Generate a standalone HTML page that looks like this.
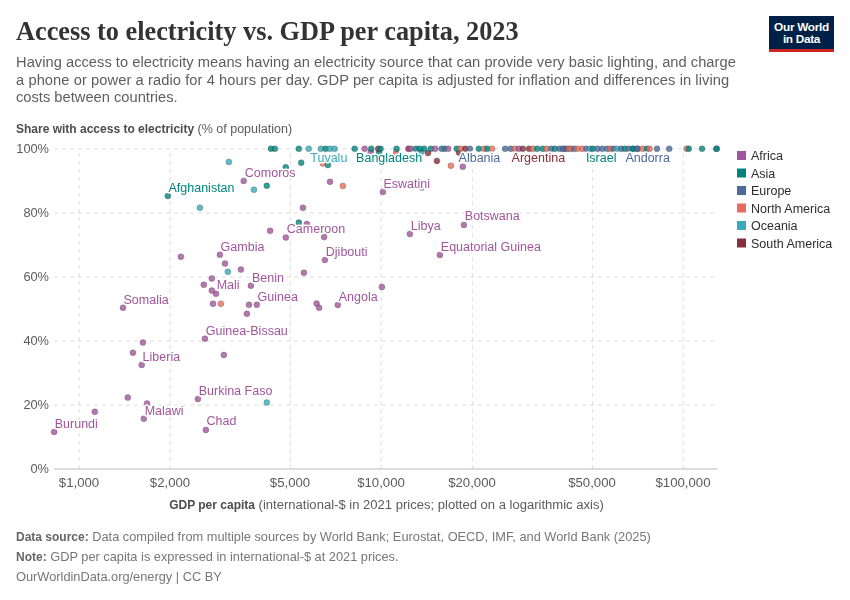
<!DOCTYPE html>
<html><head><meta charset="utf-8">
<style>
html,body{margin:0;padding:0;background:#fff;}
body{width:850px;height:600px;position:relative;overflow:hidden;font-family:"Liberation Sans",sans-serif;}
.t,svg{will-change:transform;}
.t{position:absolute;white-space:nowrap;}
#title{left:16px;top:17px;font-family:"Liberation Serif",serif;font-weight:bold;font-size:26.3px;color:#333;}
#sub{left:16px;top:53.5px;font-size:14.7px;line-height:17.7px;color:#5e5e5e;}
#logo{position:absolute;left:769px;top:16px;width:65px;height:33px;background:#002147;border-bottom:3px solid #ce261e;box-sizing:content-box;color:#fff;font-size:11.8px;line-height:12px;text-align:center;font-weight:bold;}
#logo div{padding-top:5px;letter-spacing:-0.3px;}
.foot{left:16px;font-size:12.8px;color:#777;}
.foot b{color:#666;font-size:12px;}
</style></head><body>
<div id="title" class="t">Access to electricity vs. GDP per capita, 2023</div>
<div id="sub" class="t"><span style="letter-spacing:0.02px">Having access to electricity means having an electricity source that can provide very basic lighting, and charge</span><br><span style="letter-spacing:0.07px">a phone or power a radio for 4 hours per day. GDP per capita is adjusted for inflation and differences in living</span><br>costs between countries.</div>
<div id="logo"><div>Our World<br>in Data</div></div>

<svg width="850" height="600" style="position:absolute;left:0;top:0" font-family="Liberation Sans, sans-serif">
 <text x="16" y="133" font-size="12.5" fill="#4d4d4d"><tspan font-weight="bold" font-size="12">Share with access to electricity</tspan><tspan fill="#5b5b5b"> (% of population)</tspan></text>
 <g stroke="#dddddd" stroke-dasharray="4,4" stroke-width="1">
  <line x1="54" y1="148.90" x2="718" y2="148.90"/>
  <line x1="54" y1="212.95" x2="718" y2="212.95"/>
  <line x1="54" y1="277.00" x2="718" y2="277.00"/>
  <line x1="54" y1="341.05" x2="718" y2="341.05"/>
  <line x1="54" y1="405.10" x2="718" y2="405.10"/>
  <line x1="79.2" y1="153" x2="79.2" y2="469"/>
  <line x1="170.2" y1="153" x2="170.2" y2="469"/>
  <line x1="290.3" y1="153" x2="290.3" y2="469"/>
  <line x1="381.2" y1="153" x2="381.2" y2="469"/>
  <line x1="472.3" y1="153" x2="472.3" y2="469"/>
  <line x1="592.4" y1="153" x2="592.4" y2="469"/>
  <line x1="683.3" y1="153" x2="683.3" y2="469"/>
 </g>
 <line x1="54" y1="469" x2="717.5" y2="469" stroke="#bbbbbb" stroke-width="1"/>
 <g font-size="12.8" fill="#5b5b5b" text-anchor="end">
  <text x="49" y="153">100%</text>
  <text x="49" y="217">80%</text>
  <text x="49" y="281">60%</text>
  <text x="49" y="345">40%</text>
  <text x="49" y="409">20%</text>
  <text x="49" y="473">0%</text>
 </g>
 <g font-size="13.2" fill="#5b5b5b" text-anchor="middle">
  <text x="79" y="487">$1,000</text>
  <text x="170" y="487">$2,000</text>
  <text x="290" y="487">$5,000</text>
  <text x="381" y="487">$10,000</text>
  <text x="472" y="487">$20,000</text>
  <text x="592" y="487">$50,000</text>
  <text x="683" y="487">$100,000</text>
 </g>
 <text x="386.5" y="508.8" font-size="12.5" fill="#4d4d4d" text-anchor="middle"><tspan font-weight="bold" font-size="12">GDP per capita</tspan><tspan fill="#5b5b5b" font-size="13.05"> (international-$ in 2021 prices; plotted on a logarithmic axis)</tspan></text>

 <g font-size="12.5" fill="#2d2d2d">
  <rect x="737" y="151" width="9" height="9" fill="#a2559c"/><text x="751" y="160">Africa</text>
  <rect x="737" y="168.5" width="9" height="9" fill="#00847e"/><text x="751" y="177.5">Asia</text>
  <rect x="737" y="186" width="9" height="9" fill="#4c6a9c"/><text x="751" y="195">Europe</text>
  <rect x="737" y="203.5" width="9" height="9" fill="#e56e5a"/><text x="751" y="212.5">North America</text>
  <rect x="737" y="221" width="9" height="9" fill="#38aaba"/><text x="751" y="230">Oceania</text>
  <rect x="737" y="238.5" width="9" height="9" fill="#883039"/><text x="751" y="247.5">South America</text>
 </g>

 <g id="pts" fill-opacity="0.8" stroke="#333" stroke-width="0.5" stroke-opacity="0.5">
<circle cx="54.1" cy="431.9" r="3.0" fill="#a2559c"/>
<circle cx="94.8" cy="411.8" r="3.0" fill="#a2559c"/>
<circle cx="127.8" cy="397.6" r="3.0" fill="#a2559c"/>
<circle cx="147" cy="403.5" r="3.0" fill="#a2559c"/>
<circle cx="143.8" cy="418.8" r="3.0" fill="#a2559c"/>
<circle cx="197.9" cy="398.9" r="3.0" fill="#a2559c"/>
<circle cx="205.9" cy="429.9" r="3.0" fill="#a2559c"/>
<circle cx="266.8" cy="402.6" r="3.0" fill="#38aaba"/>
<circle cx="204.9" cy="338.7" r="3.0" fill="#a2559c"/>
<circle cx="223.9" cy="354.9" r="3.0" fill="#a2559c"/>
<circle cx="142.9" cy="342.6" r="3.0" fill="#a2559c"/>
<circle cx="132.9" cy="352.7" r="3.0" fill="#a2559c"/>
<circle cx="141.7" cy="364.9" r="3.0" fill="#a2559c"/>
<circle cx="123.0" cy="307.7" r="3.0" fill="#a2559c"/>
<circle cx="180.9" cy="256.8" r="3.0" fill="#a2559c"/>
<circle cx="219.9" cy="254.8" r="3.0" fill="#a2559c"/>
<circle cx="225.0" cy="263.6" r="3.0" fill="#a2559c"/>
<circle cx="227.8" cy="271.8" r="3.0" fill="#38aaba"/>
<circle cx="240.9" cy="269.6" r="3.0" fill="#a2559c"/>
<circle cx="211.8" cy="278.5" r="3.0" fill="#a2559c"/>
<circle cx="203.8" cy="284.8" r="3.0" fill="#a2559c"/>
<circle cx="211.8" cy="290.6" r="3.0" fill="#a2559c"/>
<circle cx="216.0" cy="293.8" r="3.0" fill="#a2559c"/>
<circle cx="213.0" cy="303.7" r="3.0" fill="#a2559c"/>
<circle cx="220.9" cy="303.7" r="3.0" fill="#e56e5a"/>
<circle cx="250.9" cy="285.7" r="3.0" fill="#a2559c"/>
<circle cx="249.0" cy="304.8" r="3.0" fill="#a2559c"/>
<circle cx="256.8" cy="304.8" r="3.0" fill="#a2559c"/>
<circle cx="246.9" cy="313.8" r="3.0" fill="#a2559c"/>
<circle cx="302.9" cy="207.8" r="3.0" fill="#a2559c"/>
<circle cx="298.8" cy="222.6" r="3.0" fill="#00847e"/>
<circle cx="306.8" cy="224.1" r="3.0" fill="#a2559c"/>
<circle cx="270.1" cy="230.8" r="3.0" fill="#a2559c"/>
<circle cx="285.8" cy="237.6" r="3.0" fill="#a2559c"/>
<circle cx="324.1" cy="237.1" r="3.0" fill="#a2559c"/>
<circle cx="324.9" cy="259.9" r="3.0" fill="#a2559c"/>
<circle cx="303.9" cy="272.7" r="3.0" fill="#a2559c"/>
<circle cx="381.9" cy="286.9" r="3.0" fill="#a2559c"/>
<circle cx="316.6" cy="303.5" r="3.0" fill="#a2559c"/>
<circle cx="319.1" cy="307.8" r="3.0" fill="#a2559c"/>
<circle cx="337.8" cy="304.9" r="3.0" fill="#a2559c"/>
<circle cx="382.9" cy="191.9" r="3.0" fill="#a2559c"/>
<circle cx="421.8" cy="187.4" r="3.0" fill="#a2559c"/>
<circle cx="409.9" cy="233.9" r="3.0" fill="#a2559c"/>
<circle cx="463.9" cy="224.9" r="3.0" fill="#a2559c"/>
<circle cx="439.9" cy="254.9" r="3.0" fill="#a2559c"/>
<circle cx="228.9" cy="162.0" r="3.0" fill="#38aaba"/>
<circle cx="243.7" cy="180.9" r="3.0" fill="#a2559c"/>
<circle cx="253.9" cy="189.7" r="3.0" fill="#38aaba"/>
<circle cx="266.8" cy="185.8" r="3.0" fill="#00847e"/>
<circle cx="285.8" cy="167.3" r="3.0" fill="#00847e"/>
<circle cx="167.8" cy="195.9" r="3.0" fill="#00847e"/>
<circle cx="199.9" cy="207.7" r="3.0" fill="#38aaba"/>
<circle cx="301.2" cy="162.7" r="3.0" fill="#00847e"/>
<circle cx="322.9" cy="163.5" r="3.0" fill="#e56e5a"/>
<circle cx="327.9" cy="165.1" r="3.0" fill="#00847e"/>
<circle cx="330.0" cy="181.8" r="3.0" fill="#a2559c"/>
<circle cx="342.9" cy="185.9" r="3.0" fill="#e56e5a"/>
<circle cx="421.4" cy="151.8" r="3.0" fill="#38aaba"/>
<circle cx="379" cy="152.6" r="3.0" fill="#00847e"/>
<circle cx="370.7" cy="152.3" r="3.0" fill="#a2559c"/>
<circle cx="396.1" cy="152.6" r="3.0" fill="#e56e5a"/>
<circle cx="428.0" cy="153.1" r="3.0" fill="#883039"/>
<circle cx="436.9" cy="160.9" r="3.0" fill="#883039"/>
<circle cx="450.9" cy="165.8" r="3.0" fill="#e56e5a"/>
<circle cx="462.8" cy="166.7" r="3.0" fill="#a2559c"/>
<circle cx="459" cy="152.6" r="3.0" fill="#883039"/>
<circle cx="270.9" cy="148.8" r="3.0" fill="#00847e"/>
<circle cx="274.9" cy="148.8" r="3.0" fill="#00847e"/>
<circle cx="298.8" cy="148.8" r="3.0" fill="#00847e"/>
<circle cx="308.7" cy="148.8" r="3.0" fill="#38aaba"/>
<circle cx="320.9" cy="148.8" r="3.0" fill="#38aaba"/>
<circle cx="325.6" cy="148.8" r="3.0" fill="#00847e"/>
<circle cx="329.9" cy="148.8" r="3.0" fill="#38aaba"/>
<circle cx="334.6" cy="148.8" r="3.0" fill="#38aaba"/>
<circle cx="354.7" cy="148.8" r="3.0" fill="#00847e"/>
<circle cx="364.6" cy="148.8" r="3.0" fill="#a2559c"/>
<circle cx="371.2" cy="148.8" r="3.0" fill="#00847e"/>
<circle cx="378.2" cy="148.8" r="3.0" fill="#883039"/>
<circle cx="380.6" cy="148.8" r="3.0" fill="#00847e"/>
<circle cx="396.6" cy="148.8" r="3.0" fill="#00847e"/>
<circle cx="408.4" cy="148.8" r="3.0" fill="#883039"/>
<circle cx="410.7" cy="148.8" r="3.0" fill="#a2559c"/>
<circle cx="415.9" cy="148.8" r="3.0" fill="#00847e"/>
<circle cx="419.6" cy="148.8" r="3.0" fill="#00847e"/>
<circle cx="424.2" cy="148.8" r="3.0" fill="#00847e"/>
<circle cx="430.8" cy="148.8" r="3.0" fill="#00847e"/>
<circle cx="435.1" cy="148.8" r="3.0" fill="#a2559c"/>
<circle cx="444.5" cy="148.8" r="3.0" fill="#00847e"/>
<circle cx="441.6" cy="148.8" r="3.0" fill="#4c6a9c"/>
<circle cx="448.2" cy="148.8" r="3.0" fill="#a2559c"/>
<circle cx="456.7" cy="148.8" r="3.0" fill="#00847e"/>
<circle cx="460.5" cy="148.8" r="3.0" fill="#e56e5a"/>
<circle cx="465.2" cy="148.8" r="3.0" fill="#883039"/>
<circle cx="469.9" cy="148.8" r="3.0" fill="#4c6a9c"/>
<circle cx="478.8" cy="148.8" r="3.0" fill="#00847e"/>
<circle cx="484.0" cy="148.8" r="3.0" fill="#e56e5a"/>
<circle cx="487.3" cy="148.8" r="3.0" fill="#00847e"/>
<circle cx="492.0" cy="148.8" r="3.0" fill="#e56e5a"/>
<circle cx="505.1" cy="148.8" r="3.0" fill="#4c6a9c"/>
<circle cx="510.7" cy="148.8" r="3.0" fill="#4c6a9c"/>
<circle cx="514.9" cy="148.8" r="3.0" fill="#e56e5a"/>
<circle cx="518.7" cy="148.8" r="3.0" fill="#a2559c"/>
<circle cx="522.9" cy="148.8" r="3.0" fill="#883039"/>
<circle cx="529.1" cy="148.8" r="3.0" fill="#883039"/>
<circle cx="532.8" cy="148.8" r="3.0" fill="#e56e5a"/>
<circle cx="537.1" cy="148.8" r="3.0" fill="#00847e"/>
<circle cx="542.7" cy="148.8" r="3.0" fill="#00847e"/>
<circle cx="546.5" cy="148.8" r="3.0" fill="#e56e5a"/>
<circle cx="551.2" cy="148.8" r="3.0" fill="#4c6a9c"/>
<circle cx="554.9" cy="148.8" r="3.0" fill="#00847e"/>
<circle cx="559.6" cy="148.8" r="3.0" fill="#4c6a9c"/>
<circle cx="564.4" cy="148.8" r="3.0" fill="#4c6a9c"/>
<circle cx="562.8" cy="148.8" r="3.0" fill="#4c6a9c"/>
<circle cx="566.6" cy="148.8" r="3.0" fill="#4c6a9c"/>
<circle cx="569.1" cy="148.8" r="3.0" fill="#e56e5a"/>
<circle cx="570.8" cy="148.8" r="3.0" fill="#e56e5a"/>
<circle cx="574.1" cy="148.8" r="3.0" fill="#4c6a9c"/>
<circle cx="577.4" cy="148.8" r="3.0" fill="#e56e5a"/>
<circle cx="582.1" cy="148.8" r="3.0" fill="#e56e5a"/>
<circle cx="586.4" cy="148.8" r="3.0" fill="#4c6a9c"/>
<circle cx="590.1" cy="148.8" r="3.0" fill="#38aaba"/>
<circle cx="592.9" cy="148.8" r="3.0" fill="#00847e"/>
<circle cx="597.6" cy="148.8" r="3.0" fill="#4c6a9c"/>
<circle cx="602.4" cy="148.8" r="3.0" fill="#4c6a9c"/>
<circle cx="607.1" cy="148.8" r="3.0" fill="#4c6a9c"/>
<circle cx="610.4" cy="148.8" r="3.0" fill="#e56e5a"/>
<circle cx="613.6" cy="148.8" r="3.0" fill="#4c6a9c"/>
<circle cx="616.9" cy="148.8" r="3.0" fill="#38aaba"/>
<circle cx="621.2" cy="148.8" r="3.0" fill="#4c6a9c"/>
<circle cx="624.9" cy="148.8" r="3.0" fill="#00847e"/>
<circle cx="628.7" cy="148.8" r="3.0" fill="#4c6a9c"/>
<circle cx="633.4" cy="148.8" r="3.0" fill="#00847e"/>
<circle cx="637.6" cy="148.8" r="3.0" fill="#4c6a9c"/>
<circle cx="632.6" cy="148.8" r="3.0" fill="#00847e"/>
<circle cx="637.4" cy="148.8" r="3.0" fill="#4c6a9c"/>
<circle cx="642.7" cy="148.8" r="3.0" fill="#e56e5a"/>
<circle cx="646.9" cy="148.8" r="3.0" fill="#00847e"/>
<circle cx="649.6" cy="148.8" r="3.0" fill="#e56e5a"/>
<circle cx="657" cy="148.8" r="3.0" fill="#4c6a9c"/>
<circle cx="669.2" cy="148.8" r="3.0" fill="#4c6a9c"/>
<circle cx="686.6" cy="148.8" r="3.0" fill="#e56e5a"/>
<circle cx="688.8" cy="148.8" r="3.0" fill="#00847e"/>
<circle cx="702" cy="148.8" r="3.0" fill="#00847e"/>
<circle cx="716.8" cy="148.8" r="3.0" fill="#4c6a9c"/>
<circle cx="716.3" cy="148.8" r="3.0" fill="#00847e"/>
 </g>
 <g id="labels" font-size="12.5" stroke="#fff" stroke-width="3" paint-order="stroke" stroke-linejoin="round">
<text x="54.75" y="427.5" fill="#a2559c">Burundi</text>
<text x="206.6" y="425.4" fill="#a2559c">Chad</text>
<text x="144.7" y="414.6" fill="#a2559c">Malawi</text>
<text x="198.7" y="394.5" fill="#a2559c">Burkina Faso</text>
<text x="142.6" y="360.6" fill="#a2559c">Liberia</text>
<text x="205.8" y="334.5" fill="#a2559c">Guinea-Bissau</text>
<text x="123.5" y="303.8" fill="#a2559c">Somalia</text>
<text x="257.6" y="300.5" fill="#a2559c">Guinea</text>
<text x="216.7" y="289.4" fill="#a2559c">Mali</text>
<text x="252" y="281.5" fill="#a2559c">Benin</text>
<text x="220.6" y="250.6" fill="#a2559c">Gambia</text>
<text x="338.7" y="300.9" fill="#a2559c">Angola</text>
<text x="325.8" y="255.6" fill="#a2559c">Djibouti</text>
<text x="286.8" y="233.2" fill="#a2559c">Cameroon</text>
<text x="440.8" y="250.5" fill="#a2559c">Equatorial Guinea</text>
<text x="410.8" y="229.5" fill="#a2559c">Libya</text>
<text x="464.8" y="220.3" fill="#a2559c">Botswana</text>
<text x="383.5" y="187.6" fill="#a2559c">Eswatini</text>
<text x="244.8" y="176.5" fill="#a2559c">Comoros</text>
<text x="168.5" y="191.8" fill="#00847e">Afghanistan</text>
<text x="310.3" y="161.7" fill="#38aaba">Tuvalu</text>
<text x="356.1" y="161.6" fill="#00847e">Bangladesh</text>
<text x="458.6" y="161.6" fill="#4c6a9c">Albania</text>
<text x="511.6" y="161.6" fill="#883039">Argentina</text>
<text x="585.9" y="161.6" fill="#00847e">Israel</text>
<text x="625.4" y="161.6" fill="#4c6a9c">Andorra</text>
 </g>
</svg>

<div class="t foot" style="top:529px"><b>Data source:</b> Data compiled from multiple sources by World Bank; Eurostat, OECD, IMF, and World Bank (2025)</div>
<div class="t foot" style="top:549px"><b>Note:</b> GDP per capita is expressed in international-$ at 2021 prices.</div>
<div class="t foot" style="top:569px">OurWorldinData.org/energy | CC BY</div>
</body></html>
